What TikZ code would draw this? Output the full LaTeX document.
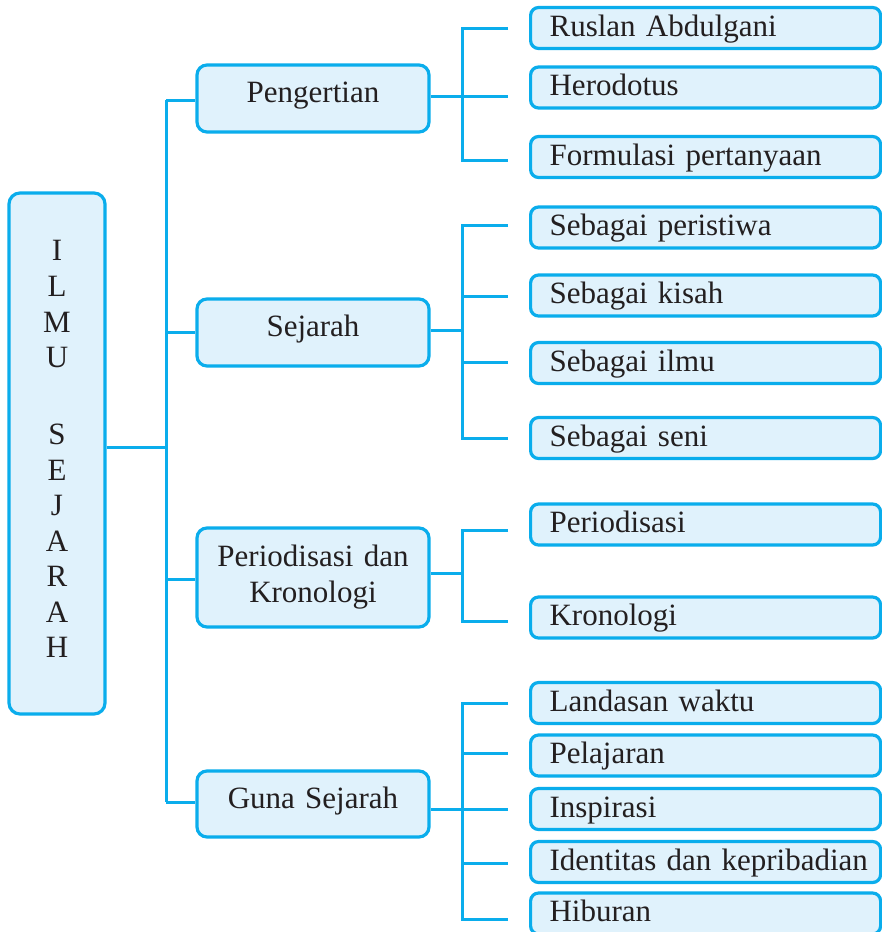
\documentclass[tikz,border=0pt]{standalone}
\usepackage{fontspec}
\setmainfont{Liberation Serif}
\definecolor{linecyan}{HTML}{0AADEC}
\definecolor{boxfill}{HTML}{E0F2FC}
\definecolor{ink}{HTML}{231F20}
\newcommand\mainfs{\fontsize{31}{36}\selectfont\spaceskip=0.33em plus 0.1em minus 0.1em\relax}
\newcommand\leaftext[1]{\makebox[312pt][l]{#1}}
\tikzset{
  box/.style={draw=linecyan, fill=boxfill, line width=3.2pt, inner sep=0pt},
  rootbox/.style={box, rounded corners=11pt, minimum width=96pt, minimum height=521pt},
  midbox/.style={box, rounded corners=10pt, minimum width=232pt, text=ink, font=\mainfs},
  mid1/.style={midbox, minimum height=67pt, text height=18pt, text depth=10pt},
  leaf/.style={box, rounded corners=8pt, anchor=west, minimum height=41pt,
    inner xsep=19pt, text height=20pt, text depth=4pt, text=ink, font=\mainfs},
  link/.style={draw=linecyan, line width=3pt},
  letter/.style={anchor=base, text=ink, font=\mainfs, inner sep=0pt}
}
\begin{document}
\begin{tikzpicture}[x=1pt, y=-1pt]
\useasboundingbox (0,0) rectangle (882,932);
\fill[white] (0,0) rectangle (882,932);
\clip (0,0) rectangle (882,932);

% root box with the title written letter by letter
\node[rootbox] (root) at (57,453.5) {};
\foreach \ch/\yy [count=\k] in {I/260, L/296, M/332, U/367, S/444, E/480, J/515, A/551, R/586, A/622, H/657}
  \node[letter] (ch\k) at (57,\yy) {\ch};

% second level
\node[mid1] (peng) at (313,98.5) {Pengertian};
\node[mid1] (sej) at (313,332.5) {Sejarah};
\node[midbox, minimum height=99pt, align=center] (per) at (313,577.5) {Periodisasi dan\\Kronologi};
\node[mid1, minimum height=66pt] (guna) at (313,804) {Guna Sejarah};

% leaves
\node[leaf] (a1) at (529,28)    {\leaftext{Ruslan Abdulgani}};
\node[leaf] (a2) at (529,87.5)  {\leaftext{Herodotus}};
\node[leaf] (a3) at (529,157)   {\leaftext{Formulasi pertanyaan}};
\node[leaf] (b1) at (529,227.5) {\leaftext{Sebagai peristiwa}};
\node[leaf] (b2) at (529,295.5) {\leaftext{Sebagai kisah}};
\node[leaf] (b3) at (529,363)   {\leaftext{Sebagai ilmu}};
\node[leaf] (b4) at (529,438)   {\leaftext{Sebagai seni}};
\node[leaf] (c1) at (529,524.5) {\leaftext{Periodisasi}};
\node[leaf] (c2) at (529,617.5) {\leaftext{Kronologi}};
\node[leaf] (d1) at (529,703)   {\leaftext{Landasan waktu}};
\node[leaf] (d2) at (529,755.5) {\leaftext{Pelajaran}};
\node[leaf] (d3) at (529,809)   {\leaftext{Inspirasi}};
\node[leaf] (d4) at (529,862)   {\leaftext{Identitas dan kepribadian}};
\node[leaf] (d5) at (529,913.5) {\leaftext{Hiburan}};

% trunk
\coordinate (tr0) at (166,447);
\coordinate (tr1) at (166,100);
\coordinate (tr2) at (166,332);
\coordinate (tr3) at (166,579);
\coordinate (tr4) at (166,802);
\draw[link] (root.east |- tr0) -- (tr0);
\draw[link] (tr1) -- (tr4);
\draw[link] (tr1) -- (peng.west |- tr1);
\draw[link] (tr2) -- (sej.west |- tr2);
\draw[link] (tr3) -- (per.west |- tr3);
\draw[link] (tr4) -- (guna.west |- tr4);

% bracket: Pengertian
\coordinate (jA) at (462,96);
\coordinate (ea1) at (508,28);
\coordinate (ea2) at (508,96);
\coordinate (ea3) at (508,160);
\draw[link] (peng.east |- jA) -- (jA);
\draw[link] (ea1) -| (jA) |- (ea3);
\draw[link] (jA) -- (ea2);

% bracket: Sejarah
\coordinate (jB) at (462,330);
\coordinate (eb1) at (508,225);
\coordinate (eb2) at (508,296);
\coordinate (eb3) at (508,362);
\coordinate (eb4) at (508,438);
\draw[link] (sej.east |- jB) -- (jB);
\draw[link] (eb1) -| (jB) |- (eb4);
\draw[link] (jB |- eb2) -- (eb2);
\draw[link] (jB |- eb3) -- (eb3);

% bracket: Periodisasi dan Kronologi
\coordinate (jC) at (462,573);
\coordinate (ec1) at (508,530);
\coordinate (ec2) at (508,621);
\draw[link] (per.east |- jC) -- (jC);
\draw[link] (ec1) -| (jC) |- (ec2);

% bracket: Guna Sejarah
\coordinate (jD) at (462,809);
\coordinate (ed1) at (508,703);
\coordinate (ed2) at (508,753);
\coordinate (ed3) at (508,809);
\coordinate (ed4) at (508,863);
\coordinate (ed5) at (508,919);
\draw[link] (guna.east |- jD) -- (jD);
\draw[link] (ed1) -| (jD) |- (ed5);
\draw[link] (jD) -- (ed3);
\draw[link] (jD |- ed2) -- (ed2);
\draw[link] (jD |- ed4) -- (ed4);
\end{tikzpicture}
\end{document}
